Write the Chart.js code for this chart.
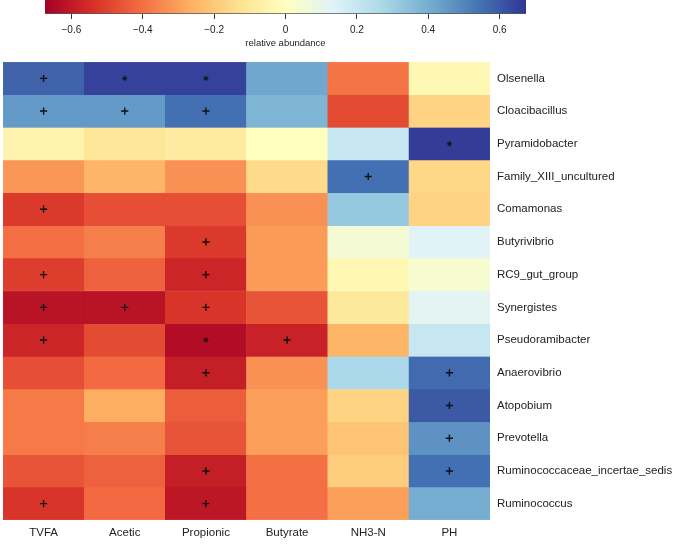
<!DOCTYPE html>
<html>
<head>
<meta charset="utf-8">
<script src="https://cdn.jsdelivr.net/npm/chart.js@4/dist/chart.umd.min.js"></script>
<style>
  body { margin: 0; background: #fff; }
  #wrap { position: relative; width: 673px; height: 545px; }
  #barCanvasBox { position: absolute; left: 0; top: 0; width: 673px; height: 49px; }
  #heatBox { position: absolute; left: 0; top: 50px; width: 673px; height: 495px; }
</style>
</head>
<body>
<div id="wrap">
  <div id="barCanvasBox"><canvas id="legenda"></canvas></div>
  <div id="heatBox"><canvas id="mapa"></canvas></div>
</div>
<script>
const generos = ['Olsenella', 'Cloacibacillus', 'Pyramidobacter', 'Family_XIII_uncultured', 'Comamonas',
    'Butyrivibrio', 'RC9_gut_group', 'Synergistes', 'Pseudoramibacter', 'Anaerovibrio', 'Atopobium',
    'Prevotella', 'Ruminococcaceae_incertae_sedis', 'Ruminococcus'];
const variaveis = ['TVFA', 'Acetic', 'Propionic', 'Butyrate', 'NH3-N', 'PH'];

// correlation per column, one value per genus (top to bottom)
const tvfa      = [0.58, 0.45, -0.05, -0.32, -0.52, -0.40, -0.51, -0.62, -0.57, -0.47, -0.38, -0.38, -0.46, -0.53];
const acetic    = [0.65, 0.45, -0.11, -0.25, -0.47, -0.37, -0.43, -0.62, -0.48, -0.41, -0.27, -0.37, -0.43, -0.41];
const propionic = [0.65, 0.55, -0.09, -0.33, -0.47, -0.52, -0.57, -0.53, -0.64, -0.59, -0.44, -0.46, -0.59, -0.61];
const butyrate  = [0.42, 0.38, 0.00, -0.15, -0.33, -0.31, -0.31, -0.46, -0.58, -0.33, -0.30, -0.30, -0.40, -0.40];
const nh3n      = [-0.39, -0.48, 0.20, 0.55, 0.32, 0.05, -0.03, -0.10, -0.25, 0.27, -0.17, -0.21, -0.19, -0.30];
const ph        = [-0.03, -0.17, 0.66, -0.16, -0.17, 0.13, 0.04, 0.12, 0.20, 0.56, 0.60, 0.47, 0.55, 0.40];

// significance marks
const tvfaSig      = ['+', '+', '', '', '+', '', '+', '+', '+', '', '', '', '', '+'];
const aceticSig    = ['*', '+', '', '', '', '', '', '+', '', '', '', '', '', ''];
const propionicSig = ['*', '+', '', '', '', '+', '+', '+', '*', '+', '', '', '+', '+'];
const butyrateSig  = ['', '', '', '', '', '', '', '', '+', '', '', '', '', ''];
const nh3nSig      = ['', '', '', '+', '', '', '', '', '', '', '', '', '', ''];
const phSig        = ['', '', '*', '', '', '', '', '', '', '+', '+', '+', '+', ''];

const legendaTicks = [-0.6, -0.4, -0.2, 0, 0.2, 0.4, 0.6];
const limite = 0.674;

const colunas = [tvfa, acetic, propionic, butyrate, nh3n, ph];
const marcas = [tvfaSig, aceticSig, propionicSig, butyrateSig, nh3nSig, phSig];

const paleta = ['#a50026', '#d73027', '#f46d43', '#fdae61', '#fee090', '#ffffbf',
    '#e0f3f8', '#abd9e9', '#74add1', '#4575b4', '#313695'];

function hexRgb(h) {
    return [parseInt(h.slice(1, 3), 16), parseInt(h.slice(3, 5), 16), parseInt(h.slice(5, 7), 16)];
}

function corPara(v) {
    let t = (v + limite) / (2 * limite);
    t = Math.max(0, Math.min(1, t)) * (paleta.length - 1);
    const i = Math.min(Math.floor(t), paleta.length - 2);
    const f = t - i;
    const a = hexRgb(paleta[i]), b = hexRgb(paleta[i + 1]);
    const c = a.map((x, k) => Math.round(x + (b[k] - x) * f));
    return `rgb(${c[0]},${c[1]},${c[2]})`;
}

Chart.defaults.font.family = '"Liberation Sans", Arial, sans-serif';
Chart.defaults.color = '#222';
Chart.defaults.animation = false;

// colour key on top
new Chart(document.getElementById('legenda'), {
    type: 'bar',
    data: {
        labels: [''],
        datasets: [{
            data: [[-limite, limite]],
            backgroundColor: (ctx) => {
                const area = ctx.chart.chartArea;
                if (!area) return '#ccc';
                const g = ctx.chart.ctx.createLinearGradient(area.left, 0, area.right, 0);
                paleta.forEach((p, i) => g.addColorStop(i / (paleta.length - 1), p));
                return g;
            },
            borderColor: '#555',
            borderWidth: { bottom: 1 },
            borderSkipped: false,
            barPercentage: 1,
            categoryPercentage: 1
        }]
    },
    options: {
        indexAxis: 'y',
        responsive: true,
        maintainAspectRatio: false,
        events: [],
        layout: { autoPadding: false, padding: { left: 45, right: 147, top: 0, bottom: 0 } },
        plugins: { legend: { display: false }, tooltip: { enabled: false } },
        scales: {
            y: { display: false },
            x: {
                min: -limite,
                max: limite,
                afterBuildTicks: (scale) => { scale.ticks = legendaTicks.map(v => ({ value: v })); },
                afterFit: (scale) => { scale.height = 35; scale.paddingLeft = 0; scale.paddingRight = 0; },
                grid: { drawOnChartArea: false, drawTicks: true, tickLength: 5, color: '#333' },
                border: { display: false },
                ticks: { font: { size: 10 }, padding: 5, callback: (v) => v === 0 ? '0' : v.toFixed(1).replace('-', '\u2212') },
                title: { display: true, text: 'relative abundance', font: { size: 9.5 }, padding: 0 }
            }
        }
    }
});

// heatmap: one floating bar per cell
const datasets = generos.map((g, r) => ({
    type: 'bar',
    label: g,
    order: 1,
    data: variaveis.map(() => [r, r + 1]),
    backgroundColor: colunas.map(col => corPara(col[r])),
    borderColor: colunas.map(col => corPara(col[r])),
    borderWidth: 0.5,
    borderSkipped: false,
    barPercentage: 1,
    categoryPercentage: 1,
    grouped: false
}));

const pontosMais = [], pontosEstrela = [];
marcas.forEach((col, c) => {
    col.forEach((m, r) => {
        if (m === '+') pontosMais.push({ x: variaveis[c], y: r + 0.5 });
        if (m === '*') pontosEstrela.push({ x: variaveis[c], y: r + 0.5 });
    });
});

datasets.push({
    type: 'scatter', order: 0, data: pontosMais, pointStyle: 'cross', pointRadius: 3.6,
    borderColor: '#111', borderWidth: 1.4, backgroundColor: '#111'
});
datasets.push({
    type: 'scatter', order: 0, data: pontosEstrela, pointStyle: 'star', pointRadius: 2.5,
    borderColor: '#111', borderWidth: 1, backgroundColor: '#111'
});

new Chart(document.getElementById('mapa'), {
    type: 'bar',
    data: { labels: variaveis, datasets },
    options: {
        responsive: true,
        maintainAspectRatio: false,
        events: [],
        layout: { autoPadding: false, padding: { left: 3, right: 0, top: 12, bottom: 0 } },
        plugins: { legend: { display: false }, tooltip: { enabled: false } },
        scales: {
            x: {
                type: 'category',
                offset: true,
                grid: { display: false, drawTicks: false },
                border: { display: false },
                afterFit: (scale) => { scale.height = 25; scale.paddingLeft = 0; scale.paddingRight = 0; },
                ticks: { font: { size: 11.5 }, padding: 6, color: '#222' }
            },
            y: {
                type: 'linear',
                position: 'right',
                reverse: true,
                min: 0,
                max: generos.length,
                afterBuildTicks: (scale) => { scale.ticks = generos.map((g, i) => ({ value: i + 0.5 })); },
                afterFit: (scale) => { scale.width = 183; scale.paddingTop = 0; scale.paddingBottom = 0; },
                grid: { display: false, drawTicks: false },
                border: { display: false },
                ticks: {
                    font: { size: 11.5 },
                    padding: 7,
                    color: '#222',
                    callback: (v) => generos[Math.floor(v)]
                }
            }
        }
    }
});
</script>
</body>
</html>
